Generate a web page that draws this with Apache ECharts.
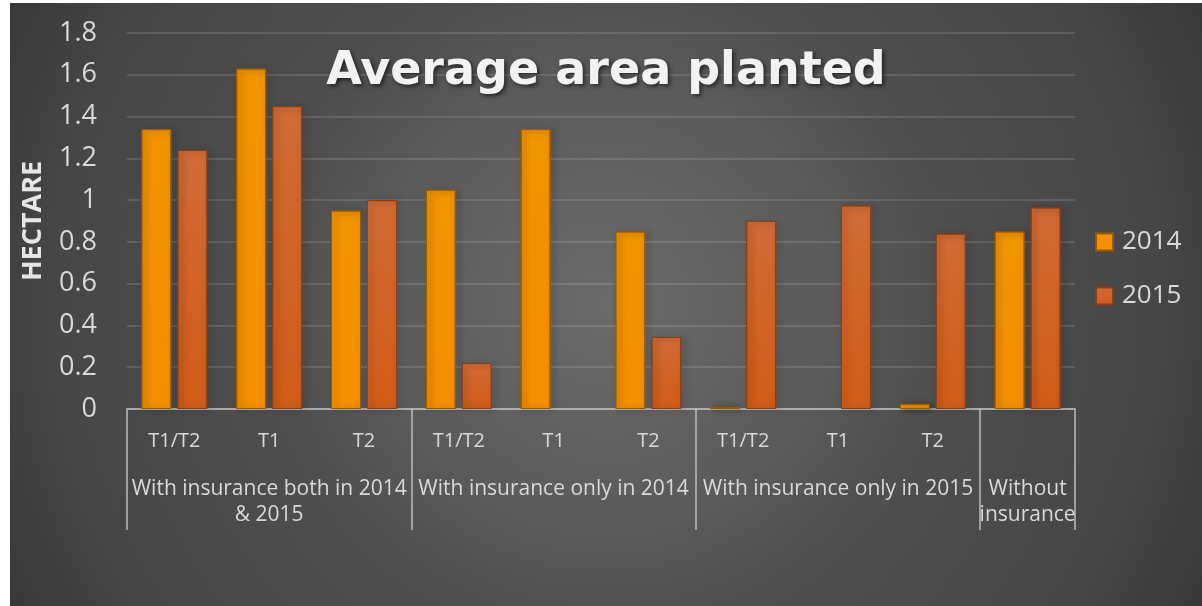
<!DOCTYPE html>
<html>
<head>
<meta charset="utf-8">
<script src="https://cdn.jsdelivr.net/npm/echarts@6/dist/echarts.min.js"></script>
<style>
  html, body { margin: 0; padding: 0; background: #ffffff; }
  #chart {
    position: absolute; left: 10px; top: 3px; width: 1192px; height: 603px;
    background: radial-gradient(circle at 596px 300px, #6b6b6b 0px, #5a5a5a 230px, #4f4f4f 330px, #464646 553px, #393939 660px, #363636 760px);
  }
</style>
</head>
<body>
<div id="chart"></div>
<script>
// ---- data ----
var subCategories = ['T1/T2', 'T1', 'T2', 'T1/T2', 'T1', 'T2', 'T1/T2', 'T1', 'T2', ''];
var groupNames = ['With insurance both in 2014\n& 2015', 'With insurance only in 2014', 'With insurance only in 2015', 'Without\ninsurance'];
var groupSpans = [3, 3, 3, 1];
var seriesNames = ['2014', '2015'];
var values2014 = [1.34, 1.63, 0.95, 1.05, 1.34, 0.85, 0.01, 0, 0.025, 0.85];
var values2015 = [1.24, 1.45, 1.00, 0.22, 0, 0.345, 0.90, 0.975, 0.84, 0.965];
var yTicks = { min: 0, max: 1.8, interval: 0.2 };
var titleText = 'Average area planted';
var yName = 'HECTARE';

// build outer-level axis: label at middle of each group, boundaries at group starts
var outerData = [], outerLabelIdx = {}, outerBoundary = {};
var idx = 0;
groupSpans.forEach(function (span, g) {
  outerBoundary[idx] = true;
  outerLabelIdx[idx + Math.floor(span / 2)] = groupNames[g];
  for (var k = 0; k < span; k++) { outerData.push(groupNames[g] + '#' + idx); idx++; }
});

// zero values draw no visible bar
function plotValues(arr) { return arr.map(function (v) { return v === 0 ? null : v; }); }

var FONT = 'Open Sans';
var chart = echarts.init(document.getElementById('chart'), null, { renderer: 'canvas' });

function grad(top, bottom) {
  return new echarts.graphic.LinearGradient(0, 0, 0, 1, [
    { offset: 0, color: top }, { offset: 1, color: bottom }
  ]);
}

chart.setOption({
  backgroundColor: 'transparent',
  textStyle: { fontFamily: FONT },
  title: {
    text: titleText,
    left: 'center',
    top: 41,
    textStyle: {
      fontFamily: 'DejaVu Sans', fontWeight: 'bold', fontSize: 46, color: '#f2f2f2',
      textShadowColor: 'rgba(0,0,0,0.6)', textShadowBlur: 4, textShadowOffsetX: 2, textShadowOffsetY: 2
    }
  },
  legend: {
    orient: 'vertical',
    left: 1080,
    top: 219,
    itemWidth: 17,
    itemHeight: 17,
    itemGap: 24,
    icon: 'rect',
    data: seriesNames,
    textStyle: { fontFamily: FONT, fontSize: 26, color: '#d9d9d9', lineHeight: 30, padding: [0, 0, 0, 4] }
  },
  grid: { left: 117, right: 127, top: 30, bottom: 197, containLabel: false },
  xAxis: [
    {
      type: 'category',
      data: subCategories,
      position: 'bottom',
      axisLine: { show: true, lineStyle: { color: '#c4c4c4', width: 1.5 } },
      axisTick: { show: false },
      axisLabel: { interval: 0, margin: 20, fontFamily: FONT, fontSize: 20, lineHeight: 24, color: '#d9d9d9' },
      splitLine: { show: false }
    },
    {
      type: 'category',
      data: outerData,
      position: 'bottom',
      gridIndex: 0,
      axisLine: { show: false },
      axisTick: {
        show: true, length: 121, inside: false,
        interval: function (i) { return !!outerBoundary[i]; },
        lineStyle: { color: '#bdbdbd', width: 1.5 }
      },
      axisLabel: {
        interval: 0, margin: 67, fontFamily: FONT, fontSize: 21, lineHeight: 26, color: '#d9d9d9',
        formatter: function (v, i) { return outerLabelIdx[i] || ''; }
      },
      splitLine: { show: false }
    }
  ],
  yAxis: {
    type: 'value',
    min: yTicks.min, max: yTicks.max, interval: yTicks.interval,
    name: yName,
    nameLocation: 'middle',
    nameRotate: 90,
    nameGap: 80,
    nameTextStyle: { fontFamily: FONT, fontWeight: 'bold', fontSize: 27, color: '#e6e6e6' },
    axisLine: { show: false },
    axisTick: { show: false },
    axisLabel: { margin: 30, fontFamily: FONT, fontSize: 27, color: '#d9d9d9' },
    splitLine: { lineStyle: { color: 'rgba(255,255,255,0.12)', width: 2 } }
  },
  series: [
    {
      name: seriesNames[0], type: 'bar', xAxisIndex: 0, data: plotValues(values2014),
      barWidth: 30, barGap: '20%',
      itemStyle: {
        color: grad('#f29400', '#f58f00'),
        borderColor: '#9a5a00', borderWidth: 1,
        shadowColor: 'rgba(0,0,0,0.45)', shadowBlur: 6, shadowOffsetX: 3, shadowOffsetY: 1
      }
    },
    {
      name: seriesNames[1], type: 'bar', xAxisIndex: 0, data: plotValues(values2015),
      barWidth: 30,
      itemStyle: {
        color: grad('#d16b36', '#d15c17'),
        borderColor: '#8a3f16', borderWidth: 1,
        shadowColor: 'rgba(0,0,0,0.45)', shadowBlur: 6, shadowOffsetX: 3, shadowOffsetY: 1
      }
    }
  ]
});
</script>
</body>
</html>
